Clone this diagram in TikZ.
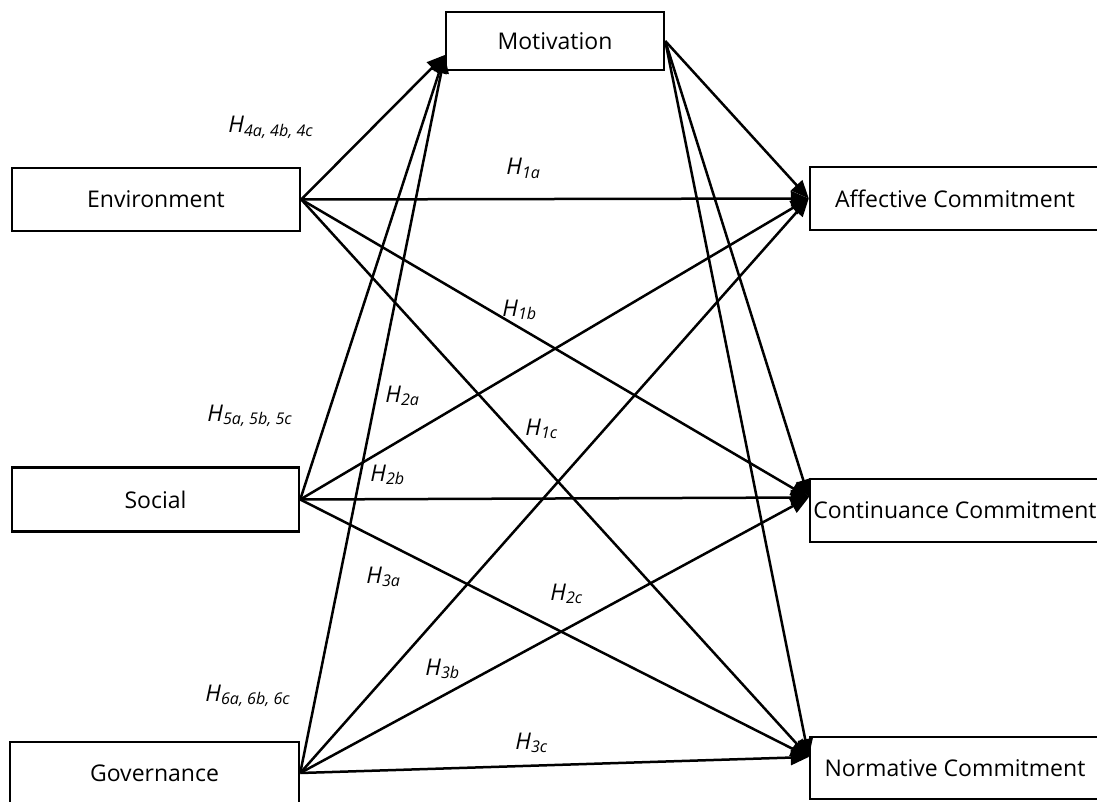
\documentclass[tikz,border=0pt]{standalone}
\usepackage{fontspec}
\setmainfont{Open Sans}
\usetikzlibrary{arrows.meta}
\begin{document}
\begin{tikzpicture}[x=0.5pt,y=-0.5pt,
  box/.style={draw, line width=1.25pt, inner sep=0pt, font=\fontsize{11.5}{13}\selectfont},
  conn/.style={line width=1.25pt, -{Triangle[length=9pt,width=7.5pt]}},
  hyp/.style={font=\fontsize{11.5}{13}\selectfont\itshape, inner sep=0pt, anchor=base west}]
\useasboundingbox (0,0) rectangle (1097,802);
\clip (0,0) rectangle (1097,802);
% boxes
\node[box, minimum width=144pt, minimum height=31.5pt] (env) at (156,199.5) {Environment};
\node[box, minimum width=143.5pt, minimum height=32pt] (soc) at (155.5,499.5) {Social};
\node[box, minimum width=144.5pt, minimum height=31pt] (gov) at (154.5,773) {Governance};
\node[box, minimum width=109pt, minimum height=29pt] (mot) at (555,41) {Motivation};
\node[box, minimum width=145pt, minimum height=31.5pt] (ac) at (955,198.5) {\makebox[0pt]{Affective Commitment}};
\node[box, minimum width=145pt, minimum height=31.5pt] (cc) at (955,510.5) {\makebox[0pt]{Continuance Commitment}};
\node[box, minimum width=145pt, minimum height=31pt] (nc) at (955,768) {\makebox[0pt]{Normative Commitment}};
% connectors to Motivation
\draw[conn] (env.east) -- ([yshift=-7pt]mot.west);
\draw[conn] (soc.east) -- ([yshift=-7pt]mot.west);
\draw[conn] (gov.east) -- ([yshift=-7pt]mot.west);
% from Motivation
\draw[conn] (mot.east) -- (ac.west);
\draw[conn] (mot.east) -- ([yshift=6.5pt]cc.west);
\draw[conn] (mot.east) -- ([yshift=5.5pt]nc.west);
% Environment
\draw[conn] (env.east) -- (ac.west);
\draw[conn] (env.east) -- ([yshift=6.5pt]cc.west);
\draw[conn] (env.east) -- ([yshift=5.5pt]nc.west);
% Social
\draw[conn] (soc.east) -- (ac.west);
\draw[conn] (soc.east) -- ([yshift=6.5pt]cc.west);
\draw[conn] (soc.east) -- ([yshift=5.5pt]nc.west);
% Governance
\draw[conn] (gov.east) -- (ac.west);
\draw[conn] (gov.east) -- ([yshift=6.5pt]cc.west);
\draw[conn] (gov.east) -- ([yshift=5.5pt]nc.west);
% labels
\node[hyp] (h4) at (228,133) {H\textsubscript{4a, 4b, 4c}};
\node[hyp] (h1a) at (506,175) {H\textsubscript{1a}};
\node[hyp] (h1b) at (502,316) {H\textsubscript{1b}};
\node[hyp] (h2a) at (385,402) {H\textsubscript{2a}};
\node[hyp] (h1c) at (525,435) {H\textsubscript{1c}};
\node[hyp] (h5) at (207,421) {H\textsubscript{5a, 5b, 5c}};
\node[hyp] (h2b) at (370,481) {H\textsubscript{2b}};
\node[hyp] (h3a) at (366,583) {H\textsubscript{3a}};
\node[hyp] (h2c) at (550,600) {H\textsubscript{2c}};
\node[hyp] (h3b) at (425,675) {H\textsubscript{3b}};
\node[hyp] (h6) at (205,701) {H\textsubscript{6a, 6b, 6c}};
\node[hyp] (h3c) at (515,749) {H\textsubscript{3c}};
\end{tikzpicture}
\end{document}
